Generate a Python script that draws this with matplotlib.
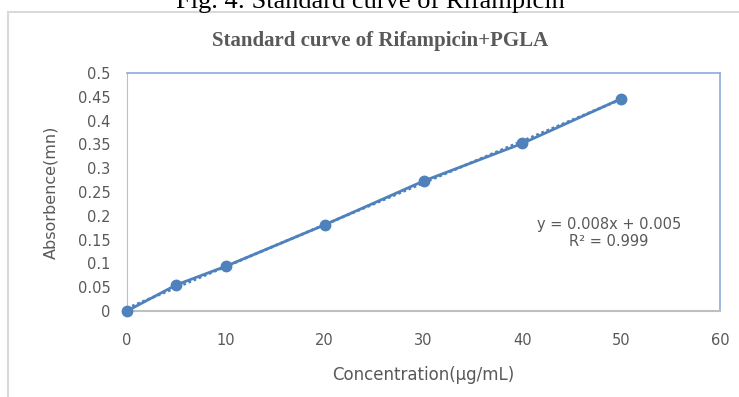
import numpy as np
import matplotlib
matplotlib.use("Agg")
import matplotlib.pyplot as plt
from matplotlib.patches import Rectangle

# data
conc = [0, 5, 10, 20, 30, 40, 50]
absorb = [0.0, 0.055, 0.094, 0.181, 0.273, 0.352, 0.446]
x_ticks = [0, 10, 20, 30, 40, 50, 60]
y_ticks = [0, 0.05, 0.1, 0.15, 0.2, 0.25, 0.3, 0.35, 0.4, 0.45, 0.5]
y_labels = ["0", "0.05", "0.1", "0.15", "0.2", "0.25", "0.3", "0.35", "0.4", "0.45", "0.5"]

blue = "#4F81BD"
gray = "#595959"

fig = plt.figure(figsize=(7.39, 3.97), dpi=100)
W, H = 739, 397

# clipped caption at top of the screenshot
fig.text(370 / W, 1 - 2 / H, "Fig. 4: Standard curve of Rifampicin",
         ha="center", va="center", fontsize=19, family="Liberation Serif",
         color="black")

# outer chart frame
fig.patches.append(Rectangle((8 / W, -0.05), 1.0, 1 - 12 / H + 0.05,
                             transform=fig.transFigure, fill=False,
                             edgecolor="#D9D9D9", linewidth=1.5))

ax = fig.add_axes([127 / W, 1 - 311 / H, (720 - 127) / W, (311 - 73) / H])

# linear trendline (dotted) behind the data line
k, b = np.polyfit(conc, absorb, 1)
xt = np.array([conc[0], conc[-1]])
ax.plot(xt, k * xt + b, linestyle=(0, (1, 1)), color=blue, linewidth=2, zorder=2)

ax.plot(conc, absorb, color=blue, linewidth=2, marker="o", markersize=7.5, zorder=3)

ax.set_xlim(0, 60)
ax.set_ylim(0, 0.5)
ax.set_xticks(x_ticks)
ax.set_yticks(y_ticks)
ax.set_yticklabels(y_labels)
ax.tick_params(length=0, labelsize=10.5, labelcolor=gray)
ax.tick_params(axis="y", pad=12)
ax.tick_params(axis="x", pad=16)

for side in ["top", "right"]:
    ax.spines[side].set_color("#8EAADB")
    ax.spines[side].set_linewidth(1.2)
for side in ["left", "bottom"]:
    ax.spines[side].set_color("#BFBFBF")
ax.spines["bottom"].set_linewidth(1.5)
for s in ax.spines.values():
    s.set_zorder(1)

for line in ax.lines:
    line.set_clip_on(False)

ax.set_xlabel("Concentration(µg/mL)", fontsize=12, color=gray, labelpad=13)
ax.set_ylabel("Absorbence(mn)", fontsize=11.5, color=gray, labelpad=14)

fig.text(380 / W, 1 - 41 / H, "Standard curve of Rifampicin+PGLA",
         ha="center", va="center", fontsize=15, fontweight="bold",
         family="Liberation Serif", color=gray)

fig.text(609 / W, 1 - 224 / H, "y = 0.008x + 0.005", fontsize=10.5, color=gray,
         ha="center", va="center")
fig.text(609 / W, 1 - 242 / H, "R² = 0.999", fontsize=10.5, color=gray,
         ha="center", va="center")

fig.savefig("out.png", dpi=100)
